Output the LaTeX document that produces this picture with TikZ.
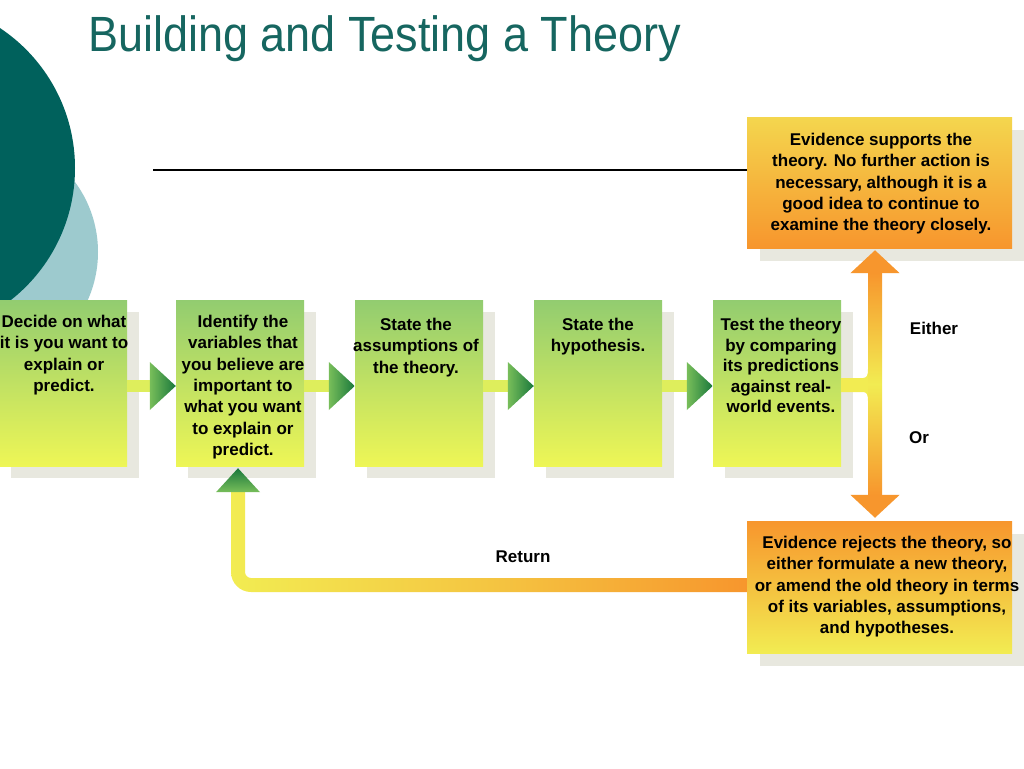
\documentclass[tikz,border=0pt]{standalone}
\usepackage{fontspec}
\setmainfont{Liberation Sans}
\usetikzlibrary{shadows,arrows.meta,calc}
\definecolor{teal1}{RGB}{0,97,92}
\definecolor{titlec}{RGB}{22,102,96}
\definecolor{lightc}{RGB}{157,202,206}
\definecolor{gtop}{RGB}{146,204,112}
\definecolor{gbot}{RGB}{238,246,86}
\definecolor{shad}{RGB}{232,232,223}
\definecolor{stemc}{RGB}{222,238,92}
\definecolor{lgreen}{RGB}{120,190,90}
\definecolor{dgreen}{RGB}{25,120,60}
\definecolor{oran}{RGB}{247,150,45}
\definecolor{yelo}{RGB}{242,236,82}
\definecolor{otop}{RGB}{244,214,78}
\newcommand\flowarr[2]{%
  \draw[stemline] ([yshift=-3pt]#1.east) -- ($(#2.west)+(-25,3)$);
  \shade[left color=lgreen, right color=dgreen]
    ($(#2.west)+(-26,-21)$) -- ($(#2.west)+(0,3)$) -- ($(#2.west)+(-26,27)$) -- cycle;}
\begin{document}
\begin{tikzpicture}[x=1pt,y=-1pt,
  stepbox/.style={rectangle, inner sep=0, minimum width=128pt, minimum height=166pt,
    top color=gtop, bottom color=gbot,
    general shadow={fill=shad, shadow xshift=12pt, shadow yshift=-12pt}},
  evbox/.style={rectangle, inner sep=0, minimum width=265pt, minimum height=132pt,
    general shadow={fill=shad, shadow xshift=13pt, shadow yshift=-13pt}},
  btext/.style={anchor=north, inner sep=0, align=center, font=\fontsize{17}{21.3}\selectfont\bfseries},
  lab/.style={inner sep=0, font=\fontsize{17}{20}\selectfont\bfseries},
  stemline/.style={line width=12pt, draw=stemc}
]
\useasboundingbox (0,0) rectangle (1024,768);
\fill[white] (0,0) rectangle (1024,768);
% background circles
\fill[lightc] (-20,252) circle (118pt);
\fill[teal1] (-93,168) circle (168pt);
% title
\node[anchor=base west, inner sep=0, text=titlec, font=\fontsize{45}{54}\selectfont] (title) at (88,52) {\scalebox{1}[1.1]{Building and Testing a Theory}};
% boxes
\node[stepbox] (b1) at (63,383) {};
\node[stepbox] (b2) at (240,383) {};
\node[stepbox] (b3) at (419,383) {};
\node[stepbox] (b4) at (598,383) {};
\node[stepbox] (b5) at (777,383) {};
\node[evbox, top color=otop, bottom color=oran, minimum height=131pt] (ev1) at (879.5,182.5) {};
\node[evbox, top color=oran, bottom color=yelo] (ev2) at (879.5,587) {};
% rule line
\coordinate (hl) at (153,170);
\draw[line width=1.2pt] (hl) -- (hl -| ev1.west);
% texts
\node[btext] (t1) at (64,315) {Decide on what\\it is you want to\\explain or\\predict.};
\node[btext] (t2) at (243,315) {Identify the\\variables that\\you believe are\\important to\\what you want\\to explain or\\predict.};
\node[btext] (t3) at (416,318) {State the\\assumptions of\\the theory.};
\node[btext] (t4) at (598,318) {State the\\hypothesis.};
\node[btext, font=\fontsize{17}{20.6}\selectfont\bfseries] (t5) at (781,318) {Test the theory\\by comparing\\its predictions\\against real-\\world events.};
\node[btext] (e1t) at (881,133) {Evidence supports the\\theory. No further action is\\necessary, although it is a\\good idea to continue to\\examine the theory closely.};
\node[btext] (e2t) at (887,536) {Evidence rejects the theory, so\\either formulate a new theory,\\or amend the old theory in terms\\of its variables, assumptions,\\and hypotheses.};
% labels
\node[lab] (either) at (934,328) {Either};
\node[lab] (or) at (919,438) {Or};
\node[lab] (ret) at (523,557) {Return};
% flow arrows
\flowarr{b1}{b2}
\flowarr{b2}{b3}
\flowarr{b3}{b4}
\flowarr{b4}{b5}
% either / or double arrow
\coordinate (jn) at (875,385);
\draw[line width=14pt, draw=oran, {Triangle[length=23pt,width=48pt]}-{Triangle[length=23pt,width=48pt]}]
  ($(ev1.south -| jn)+(0,2)$) -- ($(ev2.north -| jn)+(0,-3)$);
\shade[top color=oran, bottom color=oran, middle color=yelo]
  ($(jn)+(-7,-112)$) rectangle ($(jn)+(7,110)$);
\fill[yelo] ($(b5.east |- jn)+(0,-7)$) -- ($(jn)+(-12,-7)$)
  .. controls ($(jn)+(-8,-7)$) and ($(jn)+(-7,-10)$) .. ($(jn)+(-7,-16)$)
  -- ($(jn)+(-7,16)$)
  .. controls ($(jn)+(-7,10)$) and ($(jn)+(-8,7)$) .. ($(jn)+(-12,7)$)
  -- ($(b5.east |- jn)+(0,7)$) -- cycle;
% return arrow
\coordinate (rety) at (0,585);
\coordinate (vb) at ($(b2.south)+(-2,0)$);
\coordinate (corner) at (vb |- rety);
\shade[left color=yelo, right color=oran, middle color=yelo!55!oran]
  ($(ev2.west |- rety)+(0,-7)$) -- ($(corner)+(13,-7)$)
  .. controls ($(corner)+(9.7,-7)$) and ($(corner)+(7,-9.7)$) .. ($(corner)+(7,-13)$)
  -- ($(vb)+(7,24)$) -- ($(vb)+(-7,24)$)
  -- ($(corner)+(-7,-13)$)
  .. controls ($(corner)+(-7,-2)$) and ($(corner)+(2,7)$) .. ($(corner)+(13,7)$)
  -- ($(ev2.west |- rety)+(0,7)$) -- cycle;
\shade[top color=dgreen, bottom color=lgreen] ($(vb)+(-22,26)$) -- ($(vb)+(0,2)$) -- ($(vb)+(22,26)$) -- cycle;
\end{tikzpicture}
\end{document}
